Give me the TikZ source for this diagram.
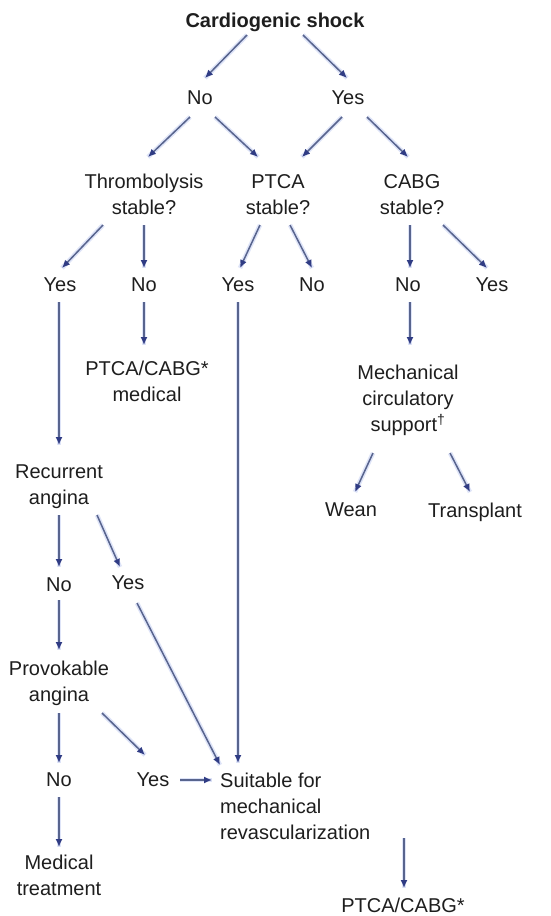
\documentclass[tikz,border=0pt]{standalone}
\usepackage{fontspec}
\setmainfont{Liberation Sans}
\usetikzlibrary{arrows.meta}
\definecolor{txt}{RGB}{30,30,30}
\definecolor{shaft}{RGB}{88,100,142}
\definecolor{tip}{RGB}{48,60,132}
\definecolor{glow}{RGB}{222,228,248}
\tikzset{
  lbl/.style={anchor=north, inner sep=0pt, align=center, text=txt,
    font=\fontsize{20pt}{26pt}\selectfont},
  arr/.style={draw=shaft, line width=1.5pt,
    -{Latex[length=8pt,width=7pt,fill=tip,color=tip]},
    preaction={draw=glow, line width=4.5pt, -}}
}
\begin{document}
\begin{tikzpicture}[x=1pt,y=-1pt]
\useasboundingbox[fill=white] (0,0) rectangle (550,916);

% decision tree
\node[lbl, font=\fontsize{20pt}{26pt}\selectfont\bfseries] (shock) at (275,13) {Cardiogenic shock};
\node[lbl] (no1) at (200,91) {No};
\node[lbl] (yes1) at (348,91) {Yes};
\node[lbl] (thr) at (144,174) {Thrombolysis\\stable?};
\node[lbl] (ptca) at (278,174) {PTCA\\stable?};
\node[lbl] (cabg) at (412,174) {CABG\\stable?};
\node[lbl] (ya) at (60,278) {Yes};
\node[lbl] (nb) at (144,278) {No};
\node[lbl] (yc) at (238,278) {Yes};
\node[lbl] (nd) at (312,278) {No};
\node[lbl] (ne) at (408,278) {No};
\node[lbl] (yf) at (492,278) {Yes};
\node[lbl] (pc1) at (147,361) {PTCA/CABG*\\medical};
\node[lbl] (mcs) at (408,365) {Mechanical\\circulatory\\support\textsuperscript{\textdagger}};
\node[lbl] (wean) at (351,503) {Wean};
\node[lbl] (tx) at (475,503) {Transplant};
\node[lbl] (rec) at (59,465) {Recurrent\\angina};
\node[lbl] (n4) at (59,578) {No};
\node[lbl] (y4) at (128,576) {Yes};
\node[lbl] (prov) at (59,661) {Provokable\\angina};
\node[lbl] (n5) at (59,773) {No};
\node[lbl] (y5) at (153,773) {Yes};
\node[lbl, anchor=north west, align=left] (suit) at (220,773) {Suitable for\\mechanical\\revascularization};
\node[lbl] (med) at (59,855) {Medical\\treatment};
\node[lbl] (pc2) at (403,898) {PTCA/CABG*};

% connectors
\draw[arr] ([shift={(-28,22)}]shock.north) -- ([shift={(5,-13)}]no1.north);
\draw[arr] ([shift={(28,22)}]shock.north) -- ([shift={(-1,-13)}]yes1.north);
\draw[arr] ([shift={(-10,26)}]no1.north) -- ([shift={(4,-17)}]thr.north);
\draw[arr] ([shift={(15,26)}]no1.north) -- ([shift={(-20,-17)}]ptca.north);
\draw[arr] ([shift={(-6,26)}]yes1.north) -- ([shift={(24,-17)}]ptca.north);
\draw[arr] ([shift={(19,26)}]yes1.north) -- ([shift={(-4,-17)}]cabg.north);
\draw[arr] ([shift={(-41,51)}]thr.north) -- ([shift={(2,-10)}]ya.north);
\draw[arr] ([shift={(0,51)}]thr.north) -- ([shift={(0,-10)}]nb.north);
\draw[arr] ([shift={(-18,51)}]ptca.north) -- ([shift={(2,-10)}]yc.north);
\draw[arr] ([shift={(12,51)}]ptca.north) -- ([shift={(0,-10)}]nd.north);
\draw[arr] ([shift={(-2,51)}]cabg.north) -- ([shift={(2,-10)}]ne.north);
\draw[arr] ([shift={(31,51)}]cabg.north) -- ([shift={(-5,-10)}]yf.north);
\draw[arr] ([shift={(-1,24)}]ya.north) -- ([shift={(0,-20)}]rec.north);
\draw[arr] ([shift={(0,24)}]nb.north) -- ([shift={(-3,-16)}]pc1.north);
\draw[arr] ([shift={(0,24)}]yc.north) -- ([shift={(18,-10)}]suit.north west);
\draw[arr] ([shift={(2,24)}]ne.north) -- ([shift={(2,-20)}]mcs.north);
\draw[arr] ([shift={(-35,88)}]mcs.north) -- ([shift={(4,-11)}]wean.north);
\draw[arr] ([shift={(42,88)}]mcs.north) -- ([shift={(-5,-11)}]tx.north);
\draw[arr] ([shift={(0,50)}]rec.north) -- ([shift={(0,-11)}]n4.north);
\draw[arr] ([shift={(38,50)}]rec.north) -- ([shift={(-8,-9)}]y4.north);
\draw[arr] ([shift={(0,22)}]n4.north) -- ([shift={(0,-11)}]prov.north);
\draw[arr] ([shift={(9,27)}]y4.north) -- ([shift={(0,-8)}]suit.north west);
\draw[arr] ([shift={(0,52)}]prov.north) -- ([shift={(0,-10)}]n5.north);
\draw[arr] ([shift={(43,52)}]prov.north) -- ([shift={(-8,-18)}]y5.north);
\draw[arr] ([shift={(27,7)}]y5.north) -- ([shift={(-8,7)}]suit.north west);
\draw[arr] ([shift={(0,24)}]n5.north) -- ([shift={(0,-8)}]med.north);
\draw[arr] ([shift={(184,65)}]suit.north west) -- ([shift={(1,-10)}]pc2.north);
\end{tikzpicture}
\end{document}
